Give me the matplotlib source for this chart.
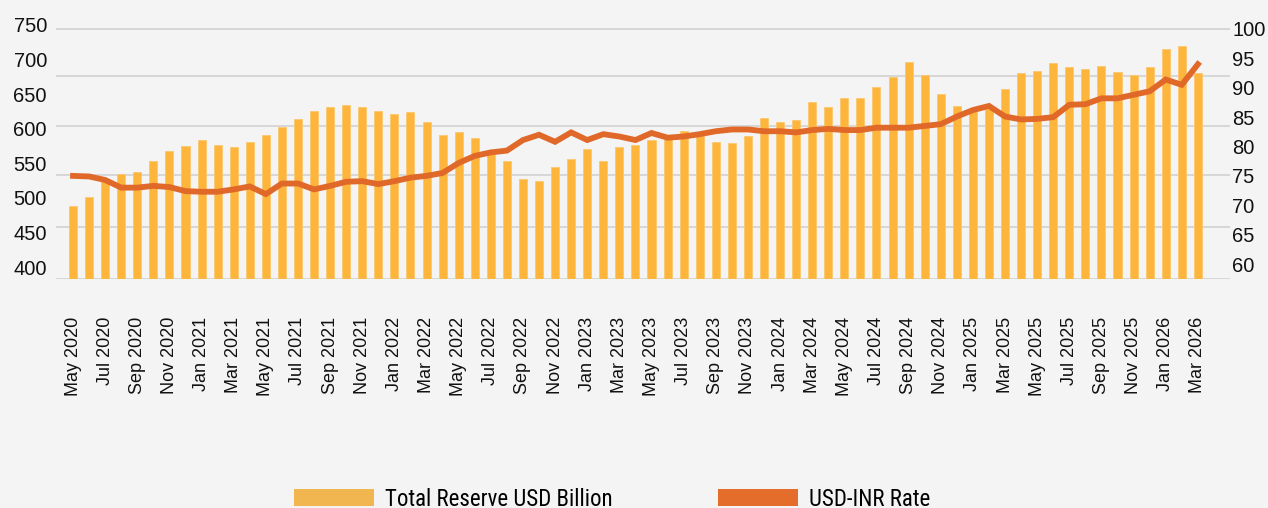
import numpy as np
import pandas as pd
import matplotlib
matplotlib.use("Agg")
import matplotlib.pyplot as plt
from matplotlib.patches import Patch

plt.rcParams['font.family'] = ['Liberation Sans', 'DejaVu Sans']

# monthly data, May 2020 .. Mar 2026
months = pd.date_range("2020-05-01", periods=71, freq="MS").strftime("%b %Y").tolist()

reserves = [488, 502, 525, 535, 537, 554, 568, 575, 583, 577, 574, 581, 591, 602, 614, 626,
            632, 635, 632, 626, 622, 624, 610, 591, 595, 587, 564, 554, 527, 525, 545, 556,
            570, 554, 574, 577, 583, 586, 597, 591, 581, 580, 590, 616, 610, 612, 639, 632,
            645, 645, 661, 675, 697, 677, 650, 633, 625, 629, 658, 680, 684, 695, 689, 686,
            691, 682, 678, 689, 715, 720, 680]

usd_inr = [75.0, 74.9, 74.3, 73.0, 73.0, 73.3, 73.1, 72.4, 72.3, 72.3, 72.7, 73.2, 71.9, 73.7,
           73.7, 72.7, 73.3, 74.0, 74.1, 73.6, 74.1, 74.7, 75.0, 75.5, 77.2, 78.4, 79.0, 79.3,
           81.1, 82.0, 80.8, 82.4, 81.1, 82.1, 81.7, 81.1, 82.3, 81.5, 81.7, 82.1, 82.6, 82.9,
           82.9, 82.6, 82.6, 82.4, 82.8, 83.0, 82.8, 82.8, 83.2, 83.2, 83.2, 83.5, 83.8, 85.1,
           86.2, 86.9, 85.1, 84.6, 84.7, 85.0, 87.1, 87.2, 88.2, 88.2, 88.8, 89.4, 91.4, 90.5,
           94.0]

left_ticks = [400, 450, 500, 550, 600, 650, 700, 750]
right_ticks = [60, 65, 70, 75, 80, 85, 90, 95, 100]

bg = "#f4f4f4"
bar_color = "#fdb53c"
line_color = "#e0692a"

fig = plt.figure(figsize=(12.68, 5.08), dpi=100, facecolor=bg)
ax = fig.add_axes([56 / 1268, 229 / 508, (1230 - 56) / 1268, 254 / 508])
ax.set_facecolor(bg)

x = np.arange(len(months))
ax.bar(x, reserves, width=0.5, color=bar_color, edgecolor="#fcc870", linewidth=0.6, zorder=2)
ax.set_xlim(-1.06, 72.0)
ax.set_ylim(382.7, 750)
ax.set_yticks(left_ticks)

# grid lines sit on their own spacing, not on the tick labels
for f in [0.0, 0.205, 0.409, 0.602, 0.799, 0.984]:
    ax.plot([0, 1], [f, f], transform=ax.transAxes, color="#cfcfcf", lw=1.1, zorder=0)

ax2 = ax.twinx()
ax2.plot(x, usd_inr, color=line_color, lw=4.2, solid_joinstyle="miter", zorder=3)
ax2.set_ylim(57.45, 100.68)
ax2.set_yticks(right_ticks)

for a in (ax, ax2):
    for s in a.spines.values():
        s.set_visible(False)

ax.tick_params(axis="y", length=0, pad=6.5, labelsize=14.5, labelcolor="#111111")
ax2.tick_params(axis="y", length=0, pad=1.5, labelsize=14.5, labelcolor="#111111")
ax.set_xticks(x[::2])
ax.set_xticklabels(months[::2], rotation=90, fontsize=13, color="#111111")
ax.tick_params(axis="x", length=0, pad=27)

handles = [Patch(facecolor="#f2b650", edgecolor="none", label="Total Reserve USD Billion"),
           Patch(facecolor="#e56d2c", edgecolor="none", label="USD-INR Rate")]
fig.legend(handles=handles, loc="center left", bbox_to_anchor=(294 / 1268, 9 / 508),
           ncol=2, frameon=False, borderpad=0, borderaxespad=0,
           handlelength=3.5, handleheight=0.7, handletextpad=0.48, columnspacing=4.6,
           prop={"family": ["Roboto Condensed", "Liberation Sans Narrow", "DejaVu Sans"],
                 "weight": "normal", "size": 16.5})

fig.savefig("out.png", dpi=100, facecolor=bg)
